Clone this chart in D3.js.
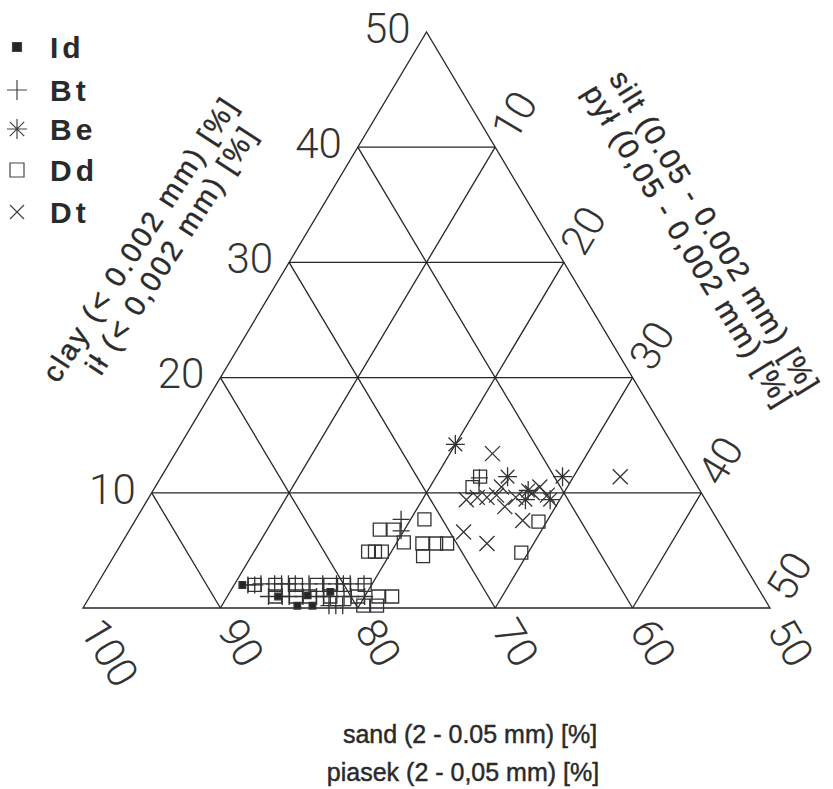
<!DOCTYPE html>
<html>
<head>
<meta charset="utf-8">
<script src="https://cdn.jsdelivr.net/npm/d3@7/dist/d3.min.js"></script>
<style>
  html, body { margin: 0; padding: 0; background: #fff; }
  svg { display: block; }
  .tick { font-family: "Roboto", "Noto Sans", sans-serif; font-weight: 300; font-size: 42px; fill: #333; }
  .title { font-family: "Liberation Sans", Arial, sans-serif; fill: #2a2a2a; stroke: #2a2a2a; stroke-width: 0.45px; }
  .legend-label { font-family: "Liberation Sans", Arial, sans-serif; font-weight: bold; font-size: 30px; fill: #2a2a2a; letter-spacing: 4px; }
</style>
</head>
<body>
<svg id="chart" width="833" height="789"></svg>
<script>
// Soil texture samples as [sand, silt, clay] in percent
const seriesId = [
  [87.4, 10.6, 2.0], [85.3, 13.7, 1.0], [83.1, 15.8, 1.1],
  [84.3, 15.5, 0.2], [83.2, 16.6, 0.2], [81.3, 17.3, 1.4]
];
const seriesBt = [
  [87.0, 11.0, 2.0], [86.5, 11.5, 2.0], [86.0, 11.9, 2.1], [85.0, 12.9, 2.1],
  [84.5, 13.4, 2.1], [84.0, 13.9, 2.1], [83.5, 14.4, 2.1], [82.5, 15.4, 2.1],
  [81.5, 16.4, 2.1], [80.5, 17.4, 2.1], [80.0, 17.9, 2.1], [79.5, 18.4, 2.1],
  [78.5, 19.4, 2.1],
  [86.0, 13.0, 1.0], [85.0, 14.0, 1.0], [84.5, 14.5, 1.0], [83.5, 15.5, 1.0],
  [82.5, 16.5, 1.0], [82.0, 17.0, 1.0], [81.5, 17.5, 1.0], [80.5, 18.5, 1.0],
  [80.0, 19.0, 1.0], [79.0, 20.0, 1.0],
  [82.0, 17.8, 0.2], [81.5, 18.3, 0.2], [81.0, 18.8, 0.2],
  [73.0, 19.3, 7.7], [73.5, 19.8, 6.7], [65.5, 23.2, 11.3]
];
const seriesBe = [
  [65.8, 20.0, 14.2], [63.4, 25.2, 11.4], [62.5, 27.3, 10.2],
  [63.1, 27.5, 9.4], [61.3, 29.3, 9.4], [59.4, 29.2, 11.4]
];
const seriesDd = [
  [86.5, 11.5, 2.0], [85.0, 13.0, 2.0], [83.5, 14.5, 2.0], [82.0, 16.0, 2.0],
  [81.0, 17.0, 2.0], [80.0, 18.0, 2.0], [78.5, 19.5, 2.0],
  [85.5, 13.5, 1.0], [84.0, 15.0, 1.0], [83.0, 16.0, 1.0], [81.5, 17.5, 1.0],
  [79.5, 19.5, 1.0], [78.0, 21.0, 1.0], [77.0, 22.0, 1.0],
  [79.5, 20.3, 0.2], [78.5, 21.3, 0.2],
  [75.0, 18.2, 6.8], [74.0, 19.2, 6.8], [71.3, 21.0, 7.7], [72.5, 21.9, 5.6],
  [71.5, 22.9, 5.6], [70.7, 23.7, 5.6], [73.0, 22.5, 4.5], [73.8, 20.5, 5.7],
  [76.8, 18.3, 4.9], [76.3, 18.8, 4.9], [75.8, 19.3, 4.9],
  [65.4, 23.2, 11.4], [66.4, 23.1, 10.5], [63.1, 29.4, 7.5], [65.7, 29.5, 4.8]
];
const seriesDt = [
  [63.5, 23.1, 13.4], [67.4, 23.2, 9.4], [66.5, 23.9, 9.6], [65.8, 24.6, 9.6],
  [65.0, 25.2, 9.8], [64.3, 25.2, 10.5], [64.9, 26.3, 8.8], [63.7, 26.7, 9.6],
  [61.5, 28.0, 10.5], [61.3, 28.9, 9.8], [64.2, 28.2, 7.6], [69.0, 24.4, 6.6],
  [67.8, 26.6, 5.6], [55.2, 33.4, 11.4], [62.3, 27.7, 10.0]
];

const legendNames = ["Id", "Bt", "Be", "Dd", "Dt"];
const clayTicks = [10, 20, 30, 40, 50];
const sandTicks = [100, 90, 80, 70, 60, 50];
const siltTicks = [10, 20, 30, 40, 50];
const gridSteps = [10, 20, 30, 40];

const clayTitle = ["clay (< 0.002 mm) [%]", "ił (< 0,002 mm) [%]"];
const siltTitle = ["silt (0.05 - 0.002 mm) [%]", "pył (0,05 - 0,002 mm) [%]"];
const sandTitle = ["sand (2 - 0.05 mm) [%]", "piasek (2 - 0,05 mm) [%]"];

const svg = d3.select("#chart");

// Ternary projection: horizontal position from silt + clay/2, vertical from clay
const xs = d3.scaleLinear().domain([0, 50]).range([83, 770]);
const ys = d3.scaleLinear().domain([0, 50]).range([608, 32]);
const proj = (sand, silt, clay) => [xs(silt + clay / 2), ys(clay)];

const ink = "#262626";
const line = d3.line();

// Grid: clay, sand and silt isolines
const grid = svg.append("g").attr("fill", "none").attr("stroke", ink).attr("stroke-width", 1.3);
gridSteps.forEach(c => grid.append("path").attr("d", line([proj(100 - c, 0, c), proj(50, 50 - c, c)])));
gridSteps.forEach(d => {
  const s = 100 - d;
  grid.append("path").attr("d", line([proj(s, d, 0), proj(s, 0, d)]));
});
gridSteps.forEach(t => grid.append("path").attr("d", line([proj(100 - t, t, 0), proj(50, t, 50 - t)])));
// Outline
grid.append("path").attr("d", line([proj(100, 0, 0), proj(50, 50, 0), proj(50, 0, 50)]) + "Z");

// Edge angle (degrees) of the left side of the triangle
const p0 = proj(100, 0, 0), pTop = proj(50, 0, 50);
const ang = Math.atan2(p0[1] - pTop[1], pTop[0] - p0[0]) * 180 / Math.PI;
const rad = ang * Math.PI / 180;

// Clay tick labels along the left side
const ticks = svg.append("g");
clayTicks.forEach(c => {
  const [x, y] = proj(100 - c, 0, c);
  ticks.append("text").attr("class", "tick")
    .attr("x", x - 16).attr("y", y - 4).attr("dy", "0.35em")
    .attr("text-anchor", "end").text(c);
});
// Sand tick labels below the base, along the sand isolines
sandTicks.forEach(s => {
  const [x, y] = proj(s, 100 - s, 0);
  const off = 17;
  const tx = x + off * Math.cos(rad), ty = y + off * Math.sin(rad);
  ticks.append("text").attr("class", "tick")
    .attr("transform", `translate(${tx},${ty}) rotate(${ang})`)
    .attr("dy", "0.35em").attr("text-anchor", "start").text(s);
});
// Silt tick labels beyond the right side, along the silt isolines
siltTicks.forEach(t => {
  const [x, y] = proj(50, t, 50 - t);
  const off = 14;
  const tx = x + off * Math.cos(rad), ty = y - off * Math.sin(rad);
  ticks.append("text").attr("class", "tick")
    .attr("transform", `translate(${tx},${ty}) rotate(${-ang})`)
    .attr("dy", "0.35em").attr("text-anchor", "start").text(t);
});

// Axis titles
const ct = svg.append("text").attr("class", "title")
  .attr("transform", "translate(140,239) rotate(-57)")
  .attr("font-size", 29).attr("letter-spacing", 2.4).attr("text-anchor", "middle");
ct.append("tspan").attr("x", 0).attr("y", 0).attr("dy", "0.35em").text(clayTitle[0]);
ct.append("tspan").attr("x", 8).attr("y", 32).attr("dy", "0.35em").text(clayTitle[1]);

const st = svg.append("text").attr("class", "title")
  .attr("transform", "translate(715,232) rotate(58.4)")
  .attr("font-size", 29).attr("letter-spacing", 1.9).attr("text-anchor", "middle");
st.append("tspan").attr("x", 0).attr("y", 0).attr("dy", "0.35em").text(siltTitle[0]);
st.append("tspan").attr("x", -2).attr("y", 30).attr("dy", "0.35em").text(siltTitle[1]);

svg.append("text").attr("class", "title").attr("font-size", 25)
  .attr("x", 470).attr("y", 743).attr("text-anchor", "middle").text(sandTitle[0]);
svg.append("text").attr("class", "title").attr("font-size", 25)
  .attr("x", 463).attr("y", 781).attr("text-anchor", "middle").text(sandTitle[1]);

// Marker shapes (paths centred on the origin)
const shapes = {
  plus: r => `M${-r},0H${r}M0,${-r}V${r}`,
  times: r => `M${-r},${-r}L${r},${r}M${-r},${r}L${r},${-r}`,
  star: r => { const d = r * 0.72; return `M${-r},0H${r}M0,${-r}V${r}M${-d},${-d}L${d},${d}M${-d},${d}L${d},${-d}`; },
  square: r => `M${-r},${-r}H${r}V${r}H${-r}Z`
};

const series = [
  { data: seriesId, shape: "square", r: 3.3, fill: ink, lr: 4.5 },
  { data: seriesBt, shape: "plus", r: 8.5, fill: "none", lr: 10 },
  { data: seriesBe, shape: "star", r: 9.5, fill: "none", lr: 10 },
  { data: seriesDd, shape: "square", r: 6.5, fill: "none", lr: 7 },
  { data: seriesDt, shape: "times", r: 7.5, fill: "none", lr: 7 }
];

const marks = svg.append("g").attr("stroke", "#333").attr("stroke-width", 1.3);
[3, 1, 0, 4, 2].forEach(i => {
  const s = series[i];
  marks.append("g").selectAll("path").data(s.data).join("path")
    .attr("transform", d => { const [x, y] = proj(d[0], d[1], d[2]); return `translate(${x},${y})`; })
    .attr("d", shapes[s.shape](s.r))
    .attr("fill", s.fill);
});

// Legend
const legendY = [47, 90, 129, 170, 212];
const lg = svg.append("g");
series.forEach((s, i) => {
  lg.append("path").attr("transform", `translate(17,${legendY[i]})`)
    .attr("d", shapes[s.shape](s.lr))
    .attr("fill", s.fill).attr("stroke", "#444").attr("stroke-width", 1.2);
  lg.append("text").attr("class", "legend-label")
    .attr("x", 50).attr("y", legendY[i]).attr("dy", "0.36em").text(legendNames[i]);
});
</script>
</body>
</html>
